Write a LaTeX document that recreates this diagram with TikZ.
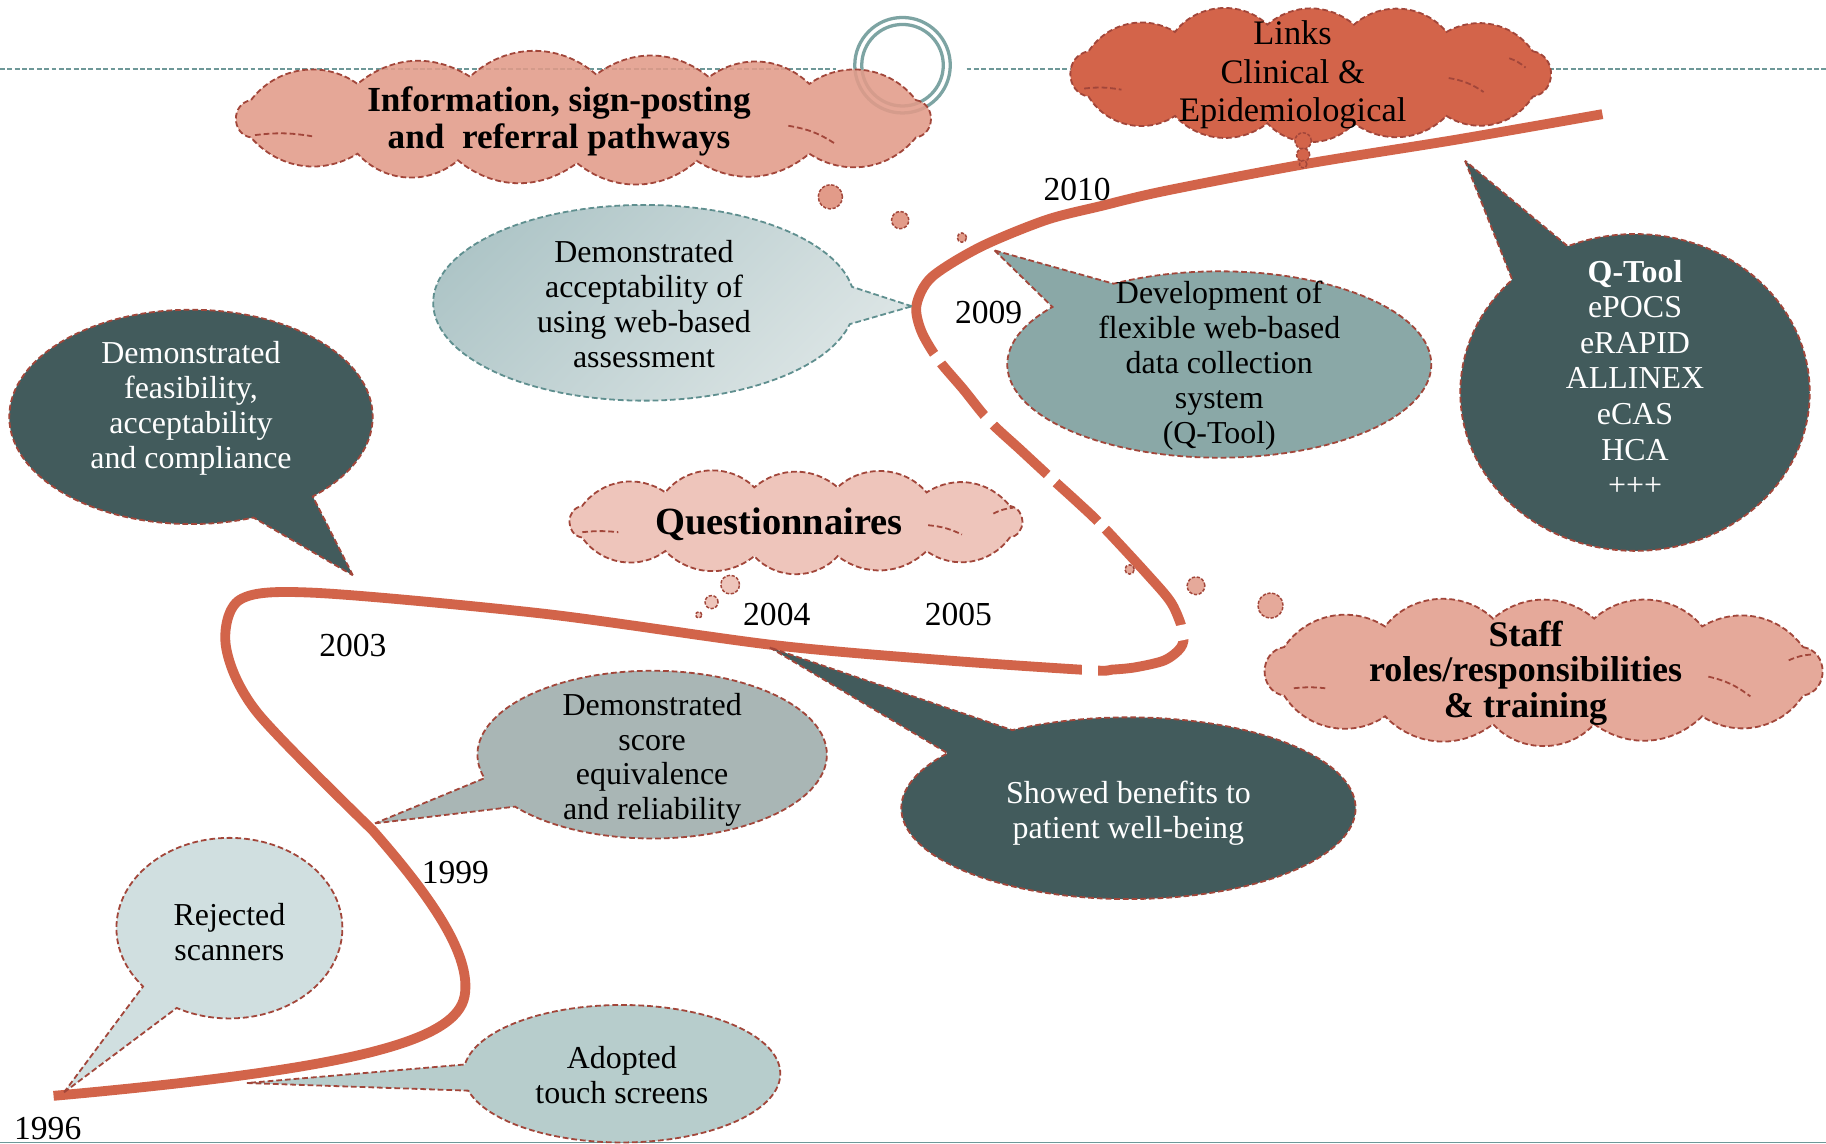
\documentclass[tikz,border=0pt]{standalone}
\usepackage{fontspec}
\setmainfont{Liberation Serif}
\usetikzlibrary{shapes.callouts}
\definecolor{tl}{HTML}{D2644A}
\definecolor{brd}{HTML}{A2463A}
\definecolor{dteal}{HTML}{425B5C}
\definecolor{mteal}{HTML}{8AA8A7}
\definecolor{gteal}{HTML}{A9B6B5}
\definecolor{lteal}{HTML}{D0DFE0}
\definecolor{ateal}{HTML}{B7CDCC}
\definecolor{acca}{HTML}{AEC5C7}
\definecolor{accb}{HTML}{DCE5E5}
\definecolor{accd}{HTML}{5F8F8F}
\definecolor{topline}{HTML}{6E9898}
\definecolor{ringc}{HTML}{7DA4A3}
\definecolor{cloudA}{HTML}{E29B89}
\definecolor{cloudL}{HTML}{D3644A}
\definecolor{cloudQ}{HTML}{EEC5BB}
\definecolor{cloudS}{HTML}{E5A99A}
\tikzset{
  bdr/.style={draw=brd, line width=1.1pt, dash pattern=on 3.5pt off 1.8pt},
  bubble/.style={ellipse callout, callout pointer arc=22, bdr, inner sep=0pt, outer sep=0pt},
  dot/.style={circle, bdr, line width=0.9pt, dash pattern=on 2pt off 1pt, inner sep=0pt, outer sep=0pt},
  ghost/.style={bdr},
  txt/.style={align=center, inner sep=0pt, font={\fontsize{19.5}{21.3}\selectfont}},
  btxt/.style={align=center, inner sep=0pt, font={\fontsize{21.5}{22.7}\selectfont\bfseries}},
  year/.style={inner sep=0pt, font={\fontsize{20.5}{24}\selectfont}},
  timeline/.style={draw=tl, line width=6pt},
  cut/.style={draw=white, line width=10pt},
  ringstyle/.style={circle, draw=ringc, line width=2pt, inner sep=0pt, outer sep=0pt},
}
% #1 name, #2 centre, #3 a, #4 b, #5 start angle, #6 list angle/bend/looseness, #7 style
\newcommand\mycloud[7]{%
  \coordinate (#1) at (#2);
  \path[#7] ([shift={(#2)}]#5:#3 and #4)
    \foreach \ang/\bnd/\lo in {#6} { to[bend left=\bnd, looseness=\lo] ([shift={(#2)}]\ang:#3 and #4) } -- cycle;
}
\begin{document}
\begin{tikzpicture}[x=0.025cm,y=-0.025cm]
\useasboundingbox (0,0) rectangle (1568,982);
\fill[white] (0,0) rectangle (1568,982);
% top dashed rule and bottom rule
\draw[topline, line width=1.1pt, dash pattern=on 3pt off 1.5pt] (0,59) -- (718,59);
\draw[topline, line width=1.1pt, dash pattern=on 3pt off 1.5pt] (830,59) -- (1568,59);
\draw[topline, line width=1pt] (0,981) -- (1568,981);
% ring
\node[ringstyle, minimum size=2.05cm] (ringout) at (775,56) {};
\node[ringstyle, minimum size=1.75cm] (ringin) at (775,56) {};
% cloud A
\mycloud{info}{501,102}{315}{38}{-25}{25/80/1.4, 52/42/1, 72/36/1, 91/40/1, 110/38/1, 128/44/1, 155/40/1, 205/80/1.4, 232/44/1, 252/36/1, 272/42/1, 290/38/1, 308/40/1, 335/44/1}{bdr, fill=cloudA, fill opacity=0.88}
\draw[ghost] (219,116) to[bend left=8] (268,117);
\draw[ghost] (677,108) to[bend left=12] (718,124);
\node[dot, fill=cloudA, minimum size=0.52cm] (ia1) at (713,169) {};
\node[dot, fill=cloudA, minimum size=0.37cm] (ia2) at (773,189) {};
\node[dot, fill=cloudA, minimum size=0.2cm] (ia3) at (826,204) {};
% timeline
\draw[timeline] plot[smooth, tension=0.5] coordinates {
 (1376,98) (1250,120) (1120,141) (1000,164) (945,177) (898,189) (842,212) (800,238) (787,262) (791,284)
 (805,308) (827,334) (849,361) (876,386) (903,411) (925,431) (946,451) (985,493) (1006,518) (1016,543)
 (1014,556) (1000,567) (975,573) (955,575) (936,575.5) (812,567) (665,554) (467,527) (270,509) (206,515)
 (194,555) (221,612) (320,713)}
 .. controls (370,770) and (405,820) .. (399,855)
 .. controls (392,895) and (300,918) .. (46,941);
% gaps in the timeline
\draw[cut] (802.1,303.95) -- (807.9,312.05);
\draw[cut] (845.2,357) -- (852.8,365);
\draw[cut] (899.3,407.6) -- (906.7,414.4);
\draw[cut] (942.85,447.76) -- (949.15,454.24);
\draw[cut] (1014.7,536.6) -- (1017.3,549.4);
\draw[cut] (942.5,575.5) -- (929.5,575.5);
% callouts
\node[bubble, fill=dteal, minimum width=7.8cm, minimum height=4.6cm, callout absolute pointer={(303,494)}] (feas) at (164,358) {};
\node[bubble, draw=accd, left color=acca, right color=accb, shading angle=45, minimum width=9.05cm, minimum height=4.2cm, callout absolute pointer={(783,263)}] (accept) at (553,260) {};
\node[bubble, fill=mteal, minimum width=9.1cm, minimum height=4.0cm, callout absolute pointer={(854,215)}] (dev) at (1047,313) {};
\node[bubble, fill=dteal, minimum width=7.5cm, minimum height=6.8cm, callout absolute pointer={(1258,138)}] (qtool) at (1404,337) {};
\node[bubble, fill=dteal, minimum width=9.75cm, minimum height=3.9cm, callout absolute pointer={(661,556)}] (showed) at (969,694) {};
\node[bubble, fill=gteal, minimum width=7.5cm, minimum height=3.6cm, callout absolute pointer={(322,707)}] (score) at (560,648) {};
\node[bubble, fill=lteal, minimum width=4.85cm, minimum height=3.875cm, callout absolute pointer={(55,938)}] (rej) at (197,797) {};
\node[bubble, fill=ateal, minimum width=6.8cm, minimum height=2.95cm, callout absolute pointer={(212,930)}] (adopt) at (534,922) {};
% clouds
\mycloud{links}{1125.5,63.5}{214}{43}{-27}{27/80/1.4, 57/45/1, 80/40/1, 100/48/1, 123/42/1, 153/46/1, 207/80/1.4, 237/44/1, 260/48/1, 280/40/1, 303/46/1, 333/42/1}{bdr, fill=cloudL}
\draw[ghost] (931,76) to[bend left=8] (963,77);
\draw[ghost] (1244,67) to[bend left=12] (1274,79);
\draw[ghost] (1296,50) to[bend left=10] (1310,58);
\node[dot, fill=cloudL, minimum size=0.35cm] (lb1) at (1119,121) {};
\node[dot, fill=cloudL, minimum size=0.28cm] (lb2) at (1119,133) {};
\node[dot, fill=cloudL, minimum size=0.16cm] (lb3) at (1119,141) {};
\mycloud{quest}{683.5,448}{206}{30}{-27}{27/80/1.4, 57/45/1, 80/40/1, 100/48/1, 123/42/1, 153/46/1, 207/80/1.4, 237/44/1, 260/48/1, 280/40/1, 303/46/1, 333/42/1}{bdr, fill=cloudQ}
\draw[ghost] (500,457) to[bend left=6] (531,457);
\draw[ghost] (797,451) to[bend left=10] (826,459);
\draw[ghost] (853,441) to[bend left=10] (870,436);
\node[dot, fill=cloudQ, minimum size=0.4cm] (qb1) at (627,502) {};
\node[dot, fill=cloudQ, minimum size=0.28cm] (qb2) at (611,517) {};
\node[dot, fill=cloudQ, minimum size=0.13cm] (qb3) at (600,528) {};
\mycloud{staff}{1325.5,576.5}{250}{46}{-27}{27/80/1.4, 57/45/1, 80/40/1, 100/48/1, 123/42/1, 153/46/1, 207/80/1.4, 237/44/1, 260/48/1, 280/40/1, 303/46/1, 333/42/1}{bdr, fill=cloudS}
\draw[ghost] (1111,591) to[bend left=6] (1138,591);
\draw[ghost] (1467,581) to[bend left=12] (1503,598);
\draw[ghost] (1536,567) to[bend left=10] (1556,562);
\node[dot, fill=cloudS, minimum size=0.54cm] (sb1) at (1091,520) {};
\node[dot, fill=cloudS, minimum size=0.38cm] (sb2) at (1027,503) {};
\node[dot, fill=cloudS, minimum size=0.2cm] (sb3) at (970,489) {};
% texts
\node[btxt] (info-t) at (480,104) {Information, sign-posting\\and\ \ referral pathways};
\node[txt, font={\fontsize{21}{23.6}\selectfont}] (links-t) at (1110,64.5) {Links\\Clinical \&\\Epidemiological};
\node[btxt, font={\fontsize{23.5}{26}\selectfont\bfseries}] (quest-t) at (669,450) {Questionnaires};
\node[btxt, font={\fontsize{22}{21.5}\selectfont\bfseries}] (staff-t) at (1310,578) {Staff\\roles/responsibilities\\\& training};
\node[txt] (accept-t) at (553,261) {Demonstrated\\acceptability of\\using web-based\\assessment};
\node[txt, text=white] (feas-t) at (164,350.5) {Demonstrated\\feasibility,\\acceptability\\and compliance};
\node[txt] (dev-t) at (1047,314) {Development of\\flexible web-based\\data collection\\system\\(Q-Tool)};
\node[txt, text=white, font={\fontsize{19.5}{21.7}\selectfont}] (qtool-t) at (1404,324.5) {\textbf{Q-Tool}\\ePOCS\\eRAPID\\ALLINEX\\eCAS\\HCA\\+++};
\node[txt, text=white] (showed-t) at (969,698.5) {Showed benefits to\\patient well-being};
\node[txt] (score-t) at (560,652.5) {Demonstrated\\score\\equivalence\\and reliability};
\node[txt] (rej-t) at (197,800) {Rejected\\scanners};
\node[txt] (adopt-t) at (534,923) {Adopted\\touch screens};
% years
\node[year] (y2010) at (925,163) {2010};
\node[year] (y2009) at (849,268) {2009};
\node[year] (y2004) at (667,528) {2004};
\node[year] (y2005) at (823,528) {2005};
\node[year] (y2003) at (303,554) {2003};
\node[year] (y1999) at (391,749) {1999};
\node[year] (y1996) at (41,969) {1996};
\end{tikzpicture}
\end{document}
